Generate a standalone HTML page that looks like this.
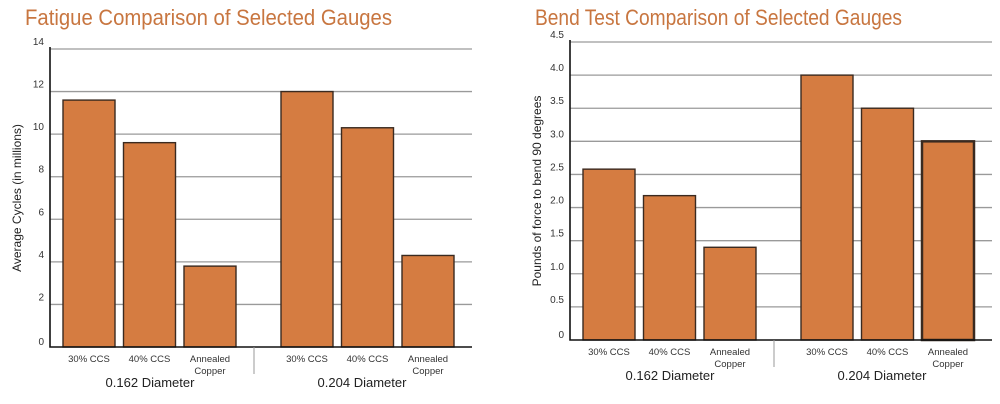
<!DOCTYPE html>
<html><head><meta charset="utf-8"><style>
html,body{margin:0;padding:0;background:#fff}
svg{display:block;font-family:"Liberation Sans",sans-serif}
</style></head><body>
<svg id="s" width="1000" height="404" viewBox="0 0 1000 404" xmlns="http://www.w3.org/2000/svg">
<rect width="1000" height="404" fill="#fff"/>
</svg>
<script>
const categories = ["30% CCS","40% CCS","Annealed Copper"];
const groups = ["0.162 Diameter","0.204 Diameter"];
const fatigueValues = [11.6, 9.6, 3.8, 12.0, 10.3, 4.3];
const fatigueTicks = ["0","2","4","6","8","10","12","14"];
const bendValues = [2.58, 2.18, 1.4, 4.0, 3.5, 3.0];
const bendTicks = ["0","0.5","1.0","1.5","2.0","2.5","3.0","3.5","4.0","4.5"];

const NS="http://www.w3.org/2000/svg";
const svg=document.getElementById('s');
function mk(tag,attrs,parent){const e=document.createElementNS(NS,tag);for(const k in attrs)e.setAttribute(k,attrs[k]);(parent||svg).appendChild(e);return e;}

function chart(cfg){
  const g=mk('g',{});
  
  
  const t=mk('text',{x:cfg.titleX,y:25,'font-size':22,fill:'#c87640',textLength:367,lengthAdjust:'spacingAndGlyphs'},g);
  t.textContent=cfg.title;
  
  
  const x0=cfg.x0,x1=cfg.x1,yb=cfg.yb,yt=cfg.yt,max=cfg.max;
  const y=v=>yb-(v/max)*(yb-yt);
  cfg.ticks.forEach((lab,i)=>{
    const v=i*cfg.step, yy=y(v);
    if(i>0){const l=mk('line',{x1:x0,x2:x1,y1:yy,y2:yy,stroke:'#9a9a9a','stroke-width':1.3},g);
      
      }
    const tt=mk('text',{x:x0-6,y:yy+(i===0?-2:-4),'font-size':10,fill:'#333','text-anchor':'end'},g);
    tt.textContent=lab;
    
    
  });
  const bw=52;
  const step=(x1-x0)/6.95;
  const slotX=i=>x0+13+ (i<3? i*60.5 : 218+(i-3)*60.5);
  cfg.values.forEach((v,i)=>{
    const bx=slotX(i), by=y(v);
    const r=mk('rect',{x:bx,y:by,width:bw,height:yb-by,fill:'#d57c41',stroke:'#3a2a20','stroke-width':(cfg.thick&&i===5)?2.5:1.4},g);
    
    
    const cat=categories[i%3];
    const parts=cat==="Annealed Copper"?["Annealed","Copper"]:[cat];
    parts.forEach((p,k)=>{
      const c=mk('text',{x:bx+bw/2,y:yb+15+k*12,'font-size':9.5,fill:'#333','text-anchor':'middle'},g);
      c.textContent=p;
      
      
    });
  });
  const ax=mk('path',{d:`M${x0} ${yt-2}V${yb}H${x1}`,fill:'none',stroke:'#111','stroke-width':1.6},g);
  
  
  const dv=mk('line',{x1:x0+204,x2:x0+204,y1:yb,y2:yb+27,stroke:'#999','stroke-width':1},g);
  
  
  groups.forEach((gn,k)=>{
    const gt=mk('text',{x:x0+(k===0?100:312),y:yb+40,'font-size':13,fill:'#222','text-anchor':'middle'},g);
    gt.textContent=gn;
    
    
  });
  const cy=(yb+yt)/2;
  const yt2=mk('text',{x:cfg.ytX,y:cy,'font-size':12,fill:'#222','text-anchor':'middle',transform:`rotate(-90 ${cfg.ytX} ${cy})`},g);
  yt2.textContent=cfg.ytitle;
  
  
}
chart({name:'fatigue-chart',title:'Fatigue Comparison of Selected Gauges',titleX:25,x0:50,x1:472,yb:347,yt:49,max:14,step:2,ticks:fatigueTicks,values:fatigueValues,ytitle:'Average Cycles (in millions)',ytX:21});
chart({name:'bend-chart',title:'Bend Test Comparison of Selected Gauges',titleX:535,x0:570,x1:992,yb:340,yt:42,max:4.5,step:0.5,ticks:bendTicks,values:bendValues,ytitle:'Pounds of force to bend 90 degrees',ytX:541,thick:true});
</script>
</body></html>
